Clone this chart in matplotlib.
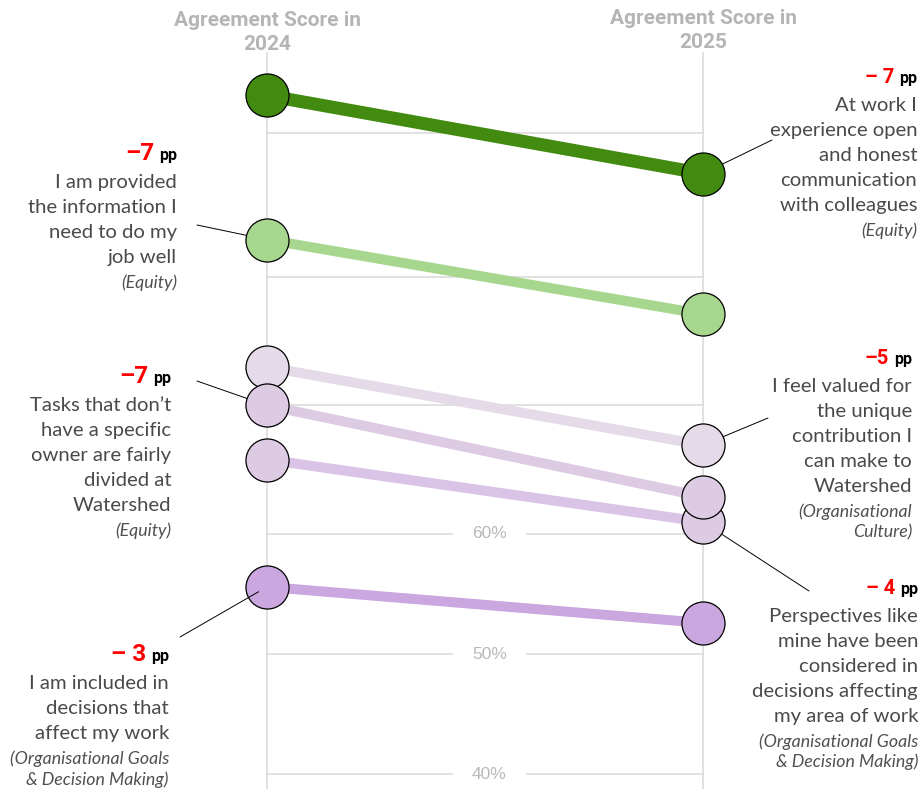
import matplotlib.pyplot as plt

YEARS = ["2024", "2025"]
STATEMENTS = [
    "At work I\nexperience open\nand honest\ncommunication\nwith colleagues",
    "I am provided\nthe information I\nneed to do my\njob well",
    "I feel valued for\nthe unique\ncontribution I\ncan make to\nWatershed",
    "Tasks that don’t\nhave a specific\nowner are fairly\ndivided at\nWatershed",
    "Perspectives like\nmine have been\nconsidered in\ndecisions affecting\nmy area of work",
    "I am included in\ndecisions that\naffect my work",
]
CATEGORIES = [
    "(Equity)",
    "(Equity)",
    "(Organisational\nCulture)",
    "(Equity)",
    "(Organisational Goals\n& Decision Making)",
    "(Organisational Goals\n& Decision Making)",
]
SCORE_2024 = [96.5, 84.5, 73.9, 70.7, 66.2, 55.6]
SCORE_2025 = [90.0, 78.3, 67.4, 63.1, 61.0, 52.6]
CHANGE_LABELS = ["– 7", "–7", "–5", "–7", "– 4", "– 3"]
GRID_LEVELS = [40, 50, 60, 70.7, 81.4, 93.4]
GRID_LABELS = {40: "40%", 50: "50%", 60: "60%"}

# styling / layout (pixels in a 922x789 canvas)
COLORS = ["#428a10", "#a7d78e", "#e5dae8", "#ddcbe4", "#d9c3e6", "#cba7df"]
DOT_COLORS = ["#428a10", "#a7d78e", "#e5dae8", "#ddcbe4", "#ddcbe4", "#cba7df"]
LINE_PX = [13, 10, 10, 10, 10, 10]
DRAW_ORDER = [0, 1, 2, 4, 3, 5]
LABEL_SIDE = ["right", "left", "right", "left", "right", "left"]  # which year's dot
TEXT_RIGHT_PX = [917, 177, 912, 171, 918, 169]
HEAD_BASE_PX = [83, 160, 364, 383, 594, 661]
CONNECT_PX = [(772, 140), (197, 225), (768, 418), (197, 381), (809, 591), (180, 637)]

W, H = 922, 789
X0_PX, X1_PX = 267, 703
Y60_PX, PX_PER_PCT = 534, 12.015

fig = plt.figure(figsize=(W / 100, H / 100), dpi=100)
ax = fig.add_axes([0, 0, 1, 1])
span = X1_PX - X0_PX
ax.set_xlim(-X0_PX / span, (W - X0_PX) / span)
ax.set_ylim(60 - (H - Y60_PX) / PX_PER_PCT, 60 + Y60_PX / PX_PER_PCT)
ax.axis("off")

grid_c = "#d9d9d9"
for x in (0, 1):
    ax.plot([x, x], [ax.get_ylim()[0], 100], color=grid_c, lw=1.1, zorder=0)
for lvl in GRID_LEVELS:
    ax.plot([0, 1], [lvl, lvl], color=grid_c, lw=1.1, zorder=0)
    if lvl in GRID_LABELS:
        ax.text(0.51, lvl, GRID_LABELS[lvl], ha="center", va="center", fontsize=12.5,
                family="Liberation Sans", color="#b8b8b8", zorder=1,
                bbox=dict(facecolor="white", edgecolor="none", boxstyle="square,pad=1.1"))

for x, yr, dy in ((0, YEARS[0], 0), (1, YEARS[1], -3)):
    px = X0_PX + x * span
    fig.text(px / W, 1 - (21 + dy) / H, "Agreement Score in", ha="center", va="center",
             fontsize=15, family="Roboto", weight="bold", color="#b5b5b5")
    fig.text(px / W, 1 - (45 + dy) / H, yr, ha="center", va="center",
             fontsize=15, family="Roboto", weight="bold", color="#b5b5b5")

for i in range(len(SCORE_2024)):
    ax.plot([0, 1], [SCORE_2024[i], SCORE_2025[i]], color=COLORS[i],
            lw=LINE_PX[i] * 0.72, solid_capstyle="butt", zorder=2)

for k, i in enumerate(DRAW_ORDER):
    ax.plot([0, 1], [SCORE_2024[i], SCORE_2025[i]], ls="none", marker="o", ms=31,
            mfc=DOT_COLORS[i], mec="black", mew=0.9, zorder=5 + k)

renderer = fig.canvas.get_renderer()
for i in range(len(STATEMENTS)):
    xr = TEXT_RIGHT_PX[i]
    base = HEAD_BASE_PX[i]
    big = 17.5 if LABEL_SIDE[i] == "left" else 14.5
    pp = fig.text(xr / W, 1 - base / H, "pp", ha="right", va="baseline",
                  fontsize=11.5, family="Roboto", weight="bold", color="black")
    bb = pp.get_window_extent(renderer)
    fig.text((bb.x0 - 5) / W, 1 - base / H, CHANGE_LABELS[i], ha="right", va="baseline",
             fontsize=big, family="Roboto", weight="bold", color="#ff0000")
    y = base + 28
    for line in STATEMENTS[i].split("\n"):
        fig.text(xr / W, 1 - y / H, line, ha="right", va="baseline",
                 fontsize=14.6, family="Lato", color="#4a4a4a")
        y += 25
    for line in CATEGORIES[i].split("\n"):
        fig.text(xr / W, 1 - y / H, line, ha="right", va="baseline",
                 fontsize=12.8, family="Lato", style="italic", color="#505050")
        y += 20.5

    xd = 0 if LABEL_SIDE[i] == "left" else 1
    val = SCORE_2024[i] if xd == 0 else SCORE_2025[i]
    cx, cy = CONNECT_PX[i]
    on_top = i == 5
    ax.annotate("", xy=(xd, val), xycoords="data", xytext=(cx, H - cy),
                textcoords="figure pixels",
                arrowprops=dict(arrowstyle="-", color="black", lw=0.7,
                                shrinkA=0, shrinkB=7 if on_top else 0),
                zorder=20 if on_top else 3)

fig.savefig("out.png", dpi=100)
